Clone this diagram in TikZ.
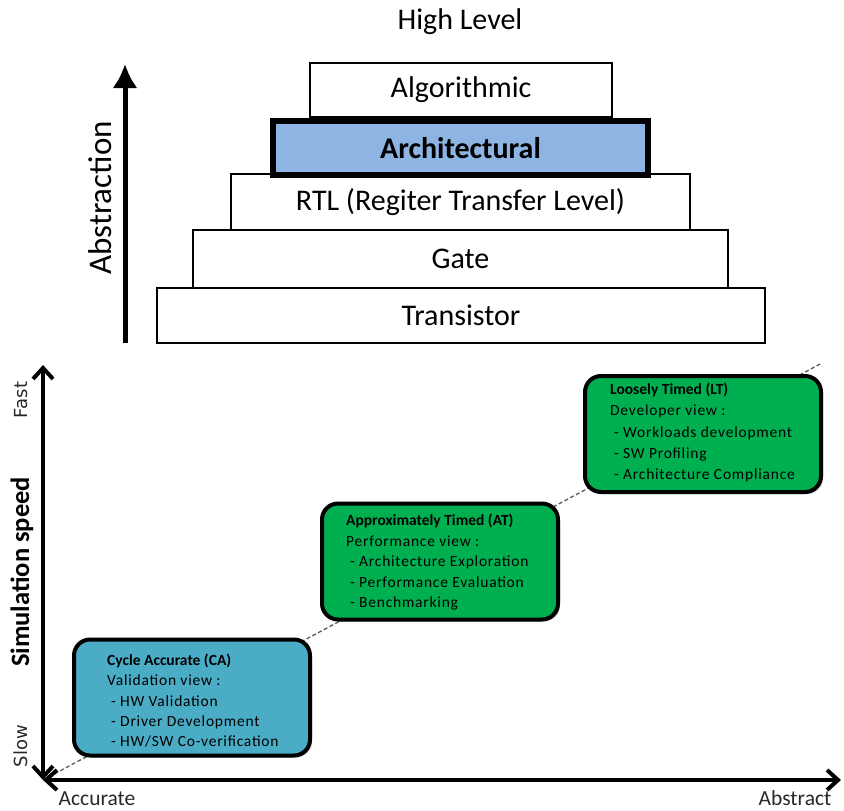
\documentclass[tikz,border=0pt]{standalone}
\usepackage{fontspec}
\setmainfont{Carlito}
\newfontfamily\axisfont{DejaVu Sans}
\newfontfamily\spacedfont[LetterSpace=5]{Carlito}
\usetikzlibrary{arrows.meta,shadows}
\definecolor{ltgreen}{RGB}{0,176,80}
\definecolor{cablue}{RGB}{75,172,198}
\definecolor{archblue}{RGB}{141,180,226}
\definecolor{inkgray}{RGB}{40,40,40}

\begin{document}
\begin{tikzpicture}[x=1pt,y=-1pt,
  level/.style={draw=black, line width=2.5pt, fill=white, inner sep=0pt,
    font=\fontsize{30}{34}\selectfont},
  model/.style={draw=black, line width=4pt, rounded corners=16pt, inner sep=0pt,
    minimum width=236pt, minimum height=116pt,
    drop shadow={shadow xshift=2pt, shadow yshift=-2pt, opacity=0.25, fill=black}},
  modeltext/.style={anchor=north west, align=left, inner sep=0pt,
    font=\fontsize{15.5}{20.5}\selectfont},
  axis/.style={line width=4pt, {Straight Barb[length=11pt,width=20pt]}-{Straight Barb[length=11pt,width=20pt]}},
  sidelabel/.style={rotate=90, inner sep=0pt, text=inkgray, font=\axisfont\fontsize{18}{20}\selectfont},
  endlabel/.style={anchor=base, inner sep=0pt, text=inkgray, font=\fontsize{21.5}{24}\selectfont}
]
\useasboundingbox (0,0) rectangle (844,811);

% ---------- abstraction pyramid ----------
\node[font=\fontsize{30}{34}\selectfont] (title) at (460,22) {High Level};

\node[level, minimum width=302pt, minimum height=54pt] (algo) at (461,90) {Algorithmic};
\node[level, minimum width=459pt, minimum height=56pt] (rtl) at (460.5,202) {RTL (Regiter Transfer Level)};
\node[level, minimum width=535pt, minimum height=58pt] (gate) at (460.5,259) {Gate};
\node[level, minimum width=608pt, minimum height=55pt] (trans) at (461,315.5) {Transistor};
\node[level, line width=6pt, fill=archblue, minimum width=375pt, minimum height=54pt] (arch) at (460.5,148) {\textbf{Architectural}};

\coordinate (abslow) at (125,343);
\coordinate (abshigh) at (125,64);
\draw[line width=5pt, -{Latex[length=24pt,width=25pt]}] (abslow) -- (abshigh);
\node[rotate=90, inner sep=0pt, font=\fontsize{33}{36}\selectfont] (abstraction) at (100,198) {Abstraction};

% ---------- speed / accuracy chart ----------
\coordinate (origin) at (43,780);
\coordinate (ytop) at (43,365);
\coordinate (xend) at (841,780);
\coordinate (trend) at (822,363);

\draw[gray!70!black, line width=1.3pt, dash pattern=on 4pt off 2.5pt] (origin) -- (trend);

\draw[axis] (origin) -- (ytop);
\draw[axis] (origin) -- (xend);

\node[sidelabel] (fast) at (21,400) {Fast};
\node[sidelabel] (slow) at (21,746) {Slow};
\node[rotate=90, inner sep=0pt, font=\bfseries\fontsize{26.5}{30}\selectfont] (speed) at (22,572) {Simulation speed};
\node[endlabel] (accurate) at (97,805) {Accurate};
\node[endlabel] (abstract) at (795,805) {Abstract};

\node[model, fill=ltgreen] (lt) at (703,434) {};
\node[model, fill=ltgreen] (at) at (440,561.5) {};
\node[model, fill=cablue] (ca) at (192,697.5) {};

\node[modeltext, font=\fontsize{15.5}{21.2}\selectfont] (lttext) at (610,383)
  {\textbf{Loosely Timed (LT)}\\
   \spacedfont Developer view :\\
   \spacedfont\hspace{4pt}- Workloads development\\
   \spacedfont\hspace{4pt}- SW Profiling\\
   \spacedfont\hspace{4pt}- Architecture Compliance};
\node[modeltext] (attext) at (346,514)
  {\textbf{Approximately Timed (AT)}\\
   \spacedfont Performance view :\\
   \spacedfont\hspace{4pt}- Architecture Exploration\\
   \spacedfont\hspace{4pt}- Performance Evaluation\\
   \spacedfont\hspace{4pt}- Benchmarking};
\node[modeltext, font=\fontsize{15.5}{20.2}\selectfont] (catext) at (107,654)
  {\textbf{Cycle Accurate (CA)}\\
   \spacedfont Validation view :\\
   \spacedfont\hspace{4pt}- HW Validation\\
   \spacedfont\hspace{4pt}- Driver Development\\
   \spacedfont\hspace{4pt}- HW/SW Co-verification};
\end{tikzpicture}
\end{document}
